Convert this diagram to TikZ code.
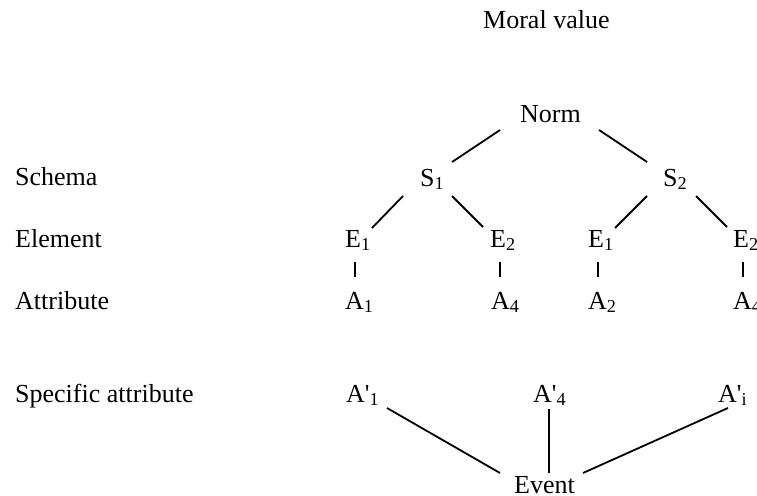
\documentclass[tikz,border=0pt]{standalone}
\usepackage{fontspec}
\setmainfont{Liberation Serif}[Ligatures=TeXOff]
\usetikzlibrary{calc}
\tikzset{
  lbl/.style={anchor=base west, inner sep=0pt, font=\fontsize{26}{30}\selectfont},
  conn/.style={line width=1.8pt, line cap=butt}
}
\begin{document}
\begin{tikzpicture}[x=1pt,y=-1pt]
\useasboundingbox (0,0) rectangle (757,495);
\clip (0,0) rectangle (757,495);
% row labels
\node[lbl] (mv) at (483,29) {Moral value};
\node[lbl] (lschema) at (15,185) {Schema};
\node[lbl] (lelem) at (15,247) {Element};
\node[lbl] (lattr) at (15,309) {Attribute};
\node[lbl] (lspec) at (15,402) {Specific attribute};
% tree
\node[lbl] (norm) at (520,122) {Norm};
\node[lbl] (s1) at (420,186) {S\textsubscript{1}};
\node[lbl] (s2) at (663,186) {S\textsubscript{2}};
\node[lbl] (e1a) at (345,247) {E\textsubscript{1}};
\node[lbl] (e2a) at (490,247) {E\textsubscript{2}};
\node[lbl] (e1b) at (588,247) {E\textsubscript{1}};
\node[lbl] (e2b) at (733,247) {E\textsubscript{2}};
\node[lbl] (a1) at (345,309) {A\textsubscript{1}};
\node[lbl] (a4a) at (491,309) {A\textsubscript{4}};
\node[lbl] (a2) at (588,309) {A\textsubscript{2}};
\node[lbl] (a4b) at (733,309) {A\textsubscript{4}};
\node[lbl] (ap1) at (346,402) {A'\textsubscript{1}};
\node[lbl] (ap4) at (533,402) {A'\textsubscript{4}};
\node[lbl] (api) at (718,402) {A'\textsubscript{i}};
\node[lbl] (ev) at (514,493) {Event};
% connectors
\draw[conn] ($(norm.base west)+(-20,8)$) -- ($(s1.base west)+(32,-24)$);
\draw[conn] ($(norm.base west)+(79,8)$) -- ($(s2.base west)+(-16,-24)$);
\draw[conn] ($(s1.base west)+(-17,10)$) -- ($(e1a.base west)+(27,-19)$);
\draw[conn] ($(s1.base west)+(32,10)$) -- ($(e2a.base west)+(-7,-20)$);
\draw[conn] ($(s2.base west)+(-16,10)$) -- ($(e1b.base west)+(27,-19)$);
\draw[conn] ($(s2.base west)+(33,10)$) -- ($(e2b.base west)+(-6,-20)$);
\draw[conn] ($(e1a.base west)+(10,15)$) -- ($(a1.base west)+(10,-32)$);
\draw[conn] ($(e2a.base west)+(10,15)$) -- ($(a4a.base west)+(9,-32)$);
\draw[conn] ($(e1b.base west)+(10,15)$) -- ($(a2.base west)+(10,-32)$);
\draw[conn] ($(e2b.base west)+(10,15)$) -- ($(a4b.base west)+(10,-32)$);
\draw[conn] ($(ap1.base west)+(41,6)$) -- ($(ev.base west)+(-14,-20)$);
\draw[conn] ($(ap4.base west)+(16,7)$) -- ($(ev.base west)+(35,-20)$);
\draw[conn] ($(api.base west)+(10,6)$) -- ($(ev.base west)+(69,-20)$);
\end{tikzpicture}
\end{document}
